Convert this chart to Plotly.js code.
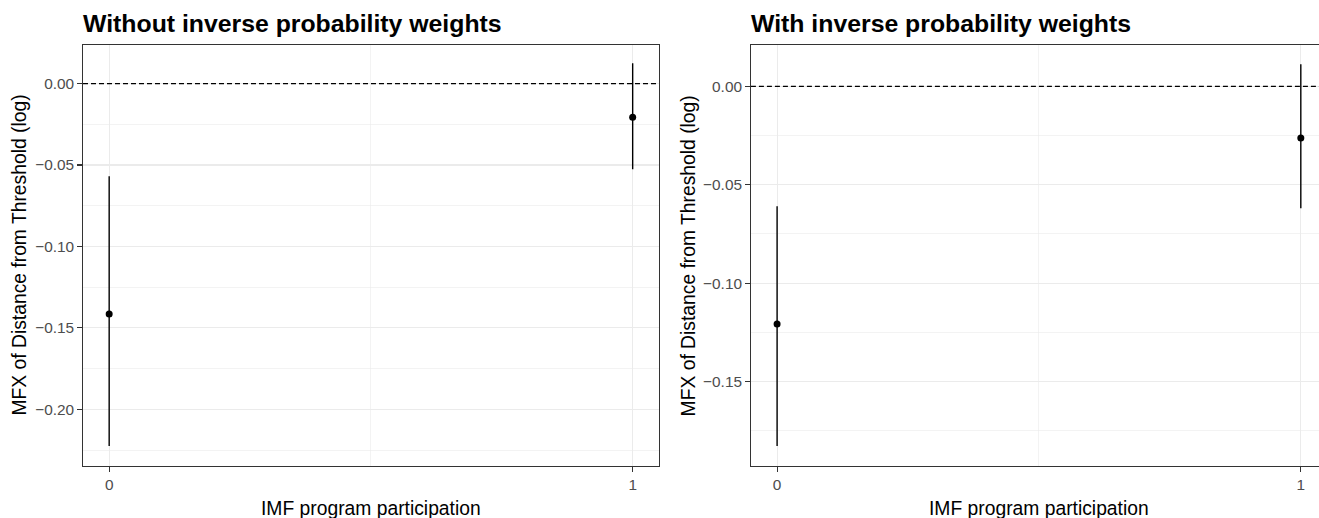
<!DOCTYPE html>
<html>
<head>
<meta charset="utf-8">
<script src="https://cdn.plot.ly/plotly-3.0.1.min.js"></script>
<style>
html,body{margin:0;padding:0;overflow:hidden;background:#fff;}
#chart{width:1330px;height:518px;}
</style>
</head>
<body>
<div id="chart"></div>
<script>
// Data
const participation = [0, 1];
const panelTitles = ["Without inverse probability weights", "With inverse probability weights"];
const xTitle = "IMF program participation";
const yTitle = "MFX of Distance from Threshold (log)";

const mfxUnweighted = [-0.1415, -0.0207];
const lowerUnweighted = [-0.2225, -0.0526];
const upperUnweighted = [-0.0569, 0.0125];

const mfxWeighted = [-0.1208, -0.0262];
const lowerWeighted = [-0.1827, -0.0620];
const upperWeighted = [-0.0609, 0.0112];

function errs(est, lo, hi) {
  return {
    type: 'data', symmetric: false,
    array: est.map((v, i) => hi[i] - v),
    arrayminus: est.map((v, i) => v - lo[i]),
    color: '#000', thickness: 1.4, width: 0
  };
}

const traces = [
  {x: participation, y: mfxUnweighted, type: 'scatter', mode: 'markers',
   marker: {color: '#000', size: 7}, error_y: errs(mfxUnweighted, lowerUnweighted, upperUnweighted),
   xaxis: 'x', yaxis: 'y', hoverinfo: 'x+y'},
  {x: participation, y: mfxWeighted, type: 'scatter', mode: 'markers',
   marker: {color: '#000', size: 7}, error_y: errs(mfxWeighted, lowerWeighted, upperWeighted),
   xaxis: 'x2', yaxis: 'y2', hoverinfo: 'x+y'}
];

const fontFam = 'Arial, "Liberation Sans", sans-serif';
const grid = '#EBEBEB';
const tickFont = {family: fontFam, size: 15.4, color: '#4D4D4D'};
function xax(domain, anchor) {
  return {
    domain: domain, anchor: anchor, range: [-0.05, 1.05],
    tickmode: 'linear', tick0: 0, dtick: 1,
    showgrid: true, gridcolor: grid, gridwidth: 1.1,
    minor: {dtick: 0.5, showgrid: true, gridcolor: grid, gridwidth: 0.6},
    zeroline: false, showline: true, mirror: true, linecolor: '#333333', linewidth: 1.1,
    ticks: 'outside', ticklen: 4.7, tickcolor: '#333333', tickwidth: 1.1,
    tickfont: tickFont
  };
}
function yax(range, anchor) {
  return {
    anchor: anchor, range: range,
    tickmode: 'linear', tick0: 0, dtick: 0.05, tickformat: '.2f',
    showgrid: true, gridcolor: grid, gridwidth: 1.1,
    minor: {dtick: 0.025, showgrid: true, gridcolor: grid, gridwidth: 0.6},
    zeroline: false, showline: true, mirror: true, linecolor: '#333333', linewidth: 1.1,
    ticks: 'outside', ticklen: 4.7, tickcolor: '#333333', tickwidth: 1.1,
    tickfont: tickFont
  };
}

const layout = {
  width: 1330, height: 518,
  margin: {l: 83, r: 3.3, t: 44.7, b: 52},
  paper_bgcolor: '#fff', plot_bgcolor: '#fff',
  showlegend: false,
  font: {family: fontFam},
  xaxis: xax([0, 0.4629], 'y'),
  yaxis: yax([-0.2348, 0.0237], 'x'),
  xaxis2: xax([0.5369, 1], 'y2'),
  yaxis2: yax([-0.1929, 0.021], 'x2'),
  shapes: [
    {type: 'line', xref: 'x domain', yref: 'y', x0: 0, x1: 1, y0: 0, y1: 0,
     line: {color: '#000', width: 1.1, dash: '5px,3px'}, layer: 'above'},
    {type: 'line', xref: 'x2 domain', yref: 'y2', x0: 0, x1: 1, y0: 0, y1: 0,
     line: {color: '#000', width: 1.1, dash: '5px,3px'}, layer: 'above'}
  ],
  annotations: [
    {text: '<b>' + panelTitles[0] + '</b>', xref: 'paper', yref: 'paper', x: 0, xshift: -2, y: 1, yshift: 22,
     xanchor: 'left', yanchor: 'middle', showarrow: false, font: {family: fontFam, size: 24.8, color: '#000'}},
    {text: '<b>' + panelTitles[1] + '</b>', xref: 'paper', yref: 'paper', x: 0.5369, xshift: -2, y: 1, yshift: 22,
     xanchor: 'left', yanchor: 'middle', showarrow: false, font: {family: fontFam, size: 24.8, color: '#000'}},
    {text: xTitle, xref: 'x domain', yref: 'paper', x: 0.5, y: 0, yshift: -42,
     xanchor: 'center', yanchor: 'middle', showarrow: false, font: {family: fontFam, size: 19.3, color: '#000'}},
    {text: xTitle, xref: 'x2 domain', yref: 'paper', x: 0.5, y: 0, yshift: -42,
     xanchor: 'center', yanchor: 'middle', showarrow: false, font: {family: fontFam, size: 19.3, color: '#000'}},
    {text: yTitle, xref: 'paper', yref: 'paper', x: 0, xshift: -64, y: 0.5, textangle: -90,
     xanchor: 'center', yanchor: 'middle', showarrow: false, font: {family: fontFam, size: 19.3, color: '#000'}},
    {text: yTitle, xref: 'paper', yref: 'paper', x: 0.5369, xshift: -62, y: 0.5, textangle: -90,
     xanchor: 'center', yanchor: 'middle', showarrow: false, font: {family: fontFam, size: 19.3, color: '#000'}}
  ]
};

Plotly.newPlot('chart', traces, layout, {displayModeBar: false, staticPlot: true});
</script>
</body>
</html>
